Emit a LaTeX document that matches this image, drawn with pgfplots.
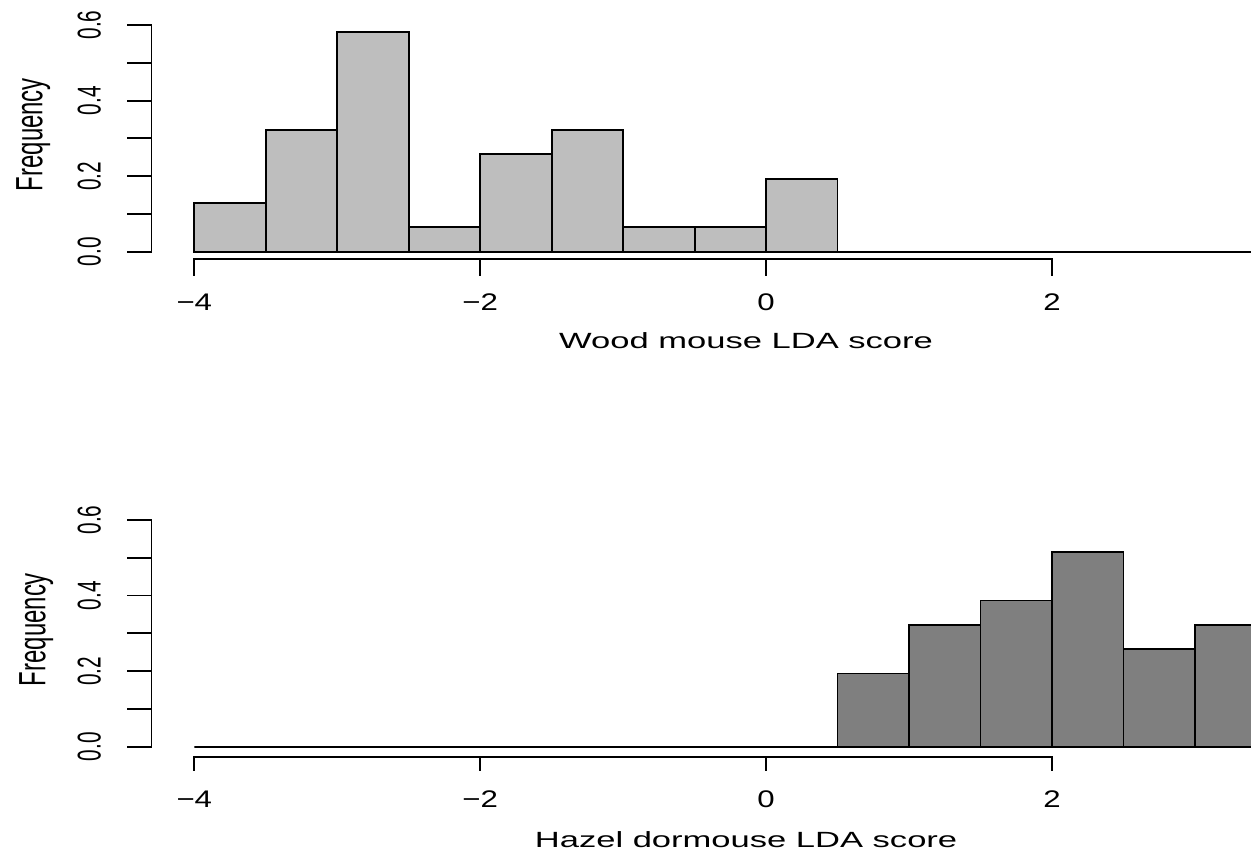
\documentclass[border=0pt]{standalone}
\usepackage{pgfplots}
\pgfplotsset{compat=1.18}
\usepackage{fontspec}
\setmainfont{Liberation Sans}
\newfontfamily\hfontA[FakeStretch=1.57]{Liberation Sans}
\newfontfamily\hfontB[FakeStretch=1.3]{Liberation Sans}
\newfontfamily\vfontA[FakeStretch=0.63]{Liberation Sans}
\newcommand{\xlf}{\hfontA\fontsize{11}{13}\selectfont}
\newcommand{\xtf}{\hfontB\fontsize{12}{14}\selectfont}
\newcommand{\ylf}{\vfontA\fontsize{19}{22}\selectfont}
\newcommand{\ytf}{\vfontA\fontsize{16.5}{19}\selectfont}
\definecolor{wood}{HTML}{BEBEBE}
\definecolor{hazel}{HTML}{7F7F7F}

\pgfplotstableread{
x y
-4.0 0.129032
-3.5 0.322581
-3.0 0.580645
-2.5 0.064516
-2.0 0.258065
-1.5 0.322581
-1.0 0.064516
-0.5 0.064516
0.0 0.193548
0.5 0
1.0 0
1.5 0
2.0 0
2.5 0
3.0 0
3.5 0
}\woodtable

\pgfplotstableread{
x y
-4.0 0
-3.5 0
-3.0 0
-2.5 0
-2.0 0
-1.5 0
-1.0 0
-0.5 0
0.0 0
0.5 0.193548
1.0 0.322581
1.5 0.387097
2.0 0.516129
2.5 0.258065
3.0 0.322581
3.5 0
}\hazeltable

\pgfplotsset{
  rhist/.style={
    scale only axis, width=578.95pt, height=120.9pt,
    xmin=-4.3, xmax=3.8, ymin=-0.02, ymax=0.62,
    hide axis, clip=false, anchor=south west,
  },
}
\tikzset{axl/.style={line width=0.9pt, black, line cap=rect}}

\begin{document}
\begin{tikzpicture}
\useasboundingbox (0,0) rectangle (625.5pt,427.5pt);

% ---------- top panel ----------
\begin{axis}[rhist, at={(75.7pt,297.85pt)}]
\addplot[ybar interval, fill=wood, draw=black, line width=0.9pt] table[x=x,y=y] {\woodtable};
% y axis
\draw[axl] (axis cs:-4.3,0) -- (axis cs:-4.3,0.6);
\pgfplotsinvokeforeach{0,0.1,0.2,0.3,0.4,0.5,0.6}{
  \draw[axl] (axis cs:-4.3,#1) -- ([xshift=-11.5pt]axis cs:-4.3,#1);
}
\pgfplotsinvokeforeach{0.0,0.2,0.4,0.6}{
  \node[rotate=90, anchor=base, inner sep=0pt, font=\ytf] at ([xshift=-25.4pt]axis cs:-4.3,#1) {#1};
}
\node[rotate=90, anchor=base, inner sep=0pt, font=\ylf] at ([xshift=-54.5pt]axis cs:-4.3,0.31) {Frequency};
% x axis
\draw[axl] (axis cs:-4,-0.02) -- (axis cs:2,-0.02);
\pgfplotsinvokeforeach{-4,-2,0,2}{
  \draw[axl] (axis cs:#1,-0.02) -- ([yshift=-7.85pt]axis cs:#1,-0.02);
}
\node[anchor=base, inner sep=0pt, font=\xtf] at ([yshift=-25.8pt]axis cs:-4,-0.02) {−4};
\node[anchor=base, inner sep=0pt, font=\xtf] at ([yshift=-25.8pt]axis cs:-2,-0.02) {−2};
\node[anchor=base, inner sep=0pt, font=\xtf] at ([yshift=-25.8pt]axis cs:0,-0.02) {0};
\node[anchor=base, inner sep=0pt, font=\xtf] at ([yshift=-25.8pt]axis cs:2,-0.02) {2};
\node[anchor=base, inner sep=0pt, font=\xlf] at ([yshift=-44.5pt]axis cs:-0.14,-0.02) {Wood mouse LDA score};
\end{axis}

% ---------- bottom panel ----------
\begin{axis}[rhist, at={(75.7pt,50.37pt)}]
\addplot[ybar interval, fill=hazel, draw=black, line width=0.9pt] table[x=x,y=y] {\hazeltable};
\draw[axl] (axis cs:-4.3,0) -- (axis cs:-4.3,0.6);
\pgfplotsinvokeforeach{0,0.1,0.2,0.3,0.4,0.5,0.6}{
  \draw[axl] (axis cs:-4.3,#1) -- ([xshift=-11.5pt]axis cs:-4.3,#1);
}
\pgfplotsinvokeforeach{0.0,0.2,0.4,0.6}{
  \node[rotate=90, anchor=base, inner sep=0pt, font=\ytf] at ([xshift=-25.4pt]axis cs:-4.3,#1) {#1};
}
\node[rotate=90, anchor=base, inner sep=0pt, font=\ylf] at ([xshift=-53pt]axis cs:-4.3,0.31) {Frequency};
\draw[axl] (axis cs:-4,-0.0265) -- (axis cs:2,-0.0265);
\pgfplotsinvokeforeach{-4,-2,0,2}{
  \draw[axl] (axis cs:#1,-0.0265) -- ([yshift=-6.7pt]axis cs:#1,-0.0265);
}
\node[anchor=base, inner sep=0pt, font=\xtf] at ([yshift=-25.6pt]axis cs:-4,-0.0265) {−4};
\node[anchor=base, inner sep=0pt, font=\xtf] at ([yshift=-25.6pt]axis cs:-2,-0.0265) {−2};
\node[anchor=base, inner sep=0pt, font=\xtf] at ([yshift=-25.6pt]axis cs:0,-0.0265) {0};
\node[anchor=base, inner sep=0pt, font=\xtf] at ([yshift=-25.6pt]axis cs:2,-0.0265) {2};
\node[anchor=base, inner sep=0pt, font=\xlf] at ([yshift=-45.3pt]axis cs:-0.14,-0.0265) {Hazel dormouse LDA score};
\end{axis}
\end{tikzpicture}
\end{document}
